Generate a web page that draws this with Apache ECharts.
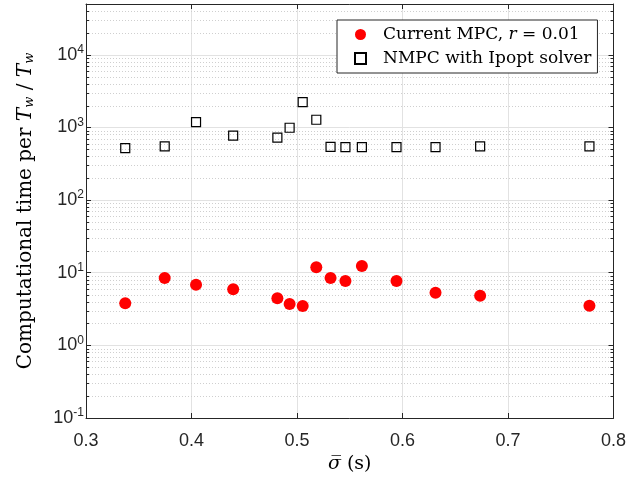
<!DOCTYPE html>
<html>
<head>
<meta charset="utf-8">
<script src="https://cdn.jsdelivr.net/npm/echarts@6/dist/echarts.min.js"></script>
<style>html,body{margin:0;padding:0;background:#fff}#chart{width:629px;height:481px}</style>
</head>
<body>
<div id="chart"></div>
<script>
// ---- data ----
const sigmaValues = [0.3372, 0.3746, 0.4043, 0.4395, 0.4814, 0.4930, 0.5054, 0.5183, 0.5318, 0.5459, 0.5615, 0.5943, 0.6313, 0.6736, 0.7772];
const mpcTimes    = [3.79, 8.46, 6.84, 5.91, 4.45, 3.71, 3.48, 11.9, 8.46, 7.69, 12.4, 7.69, 5.31, 4.83, 3.52];
const nmpcTimes   = [519, 548, 1183, 770, 722, 990, 2228, 1276, 540, 536, 536, 536, 536, 548, 548];
const xTicks = [0.3, 0.4, 0.5, 0.6, 0.7, 0.8];
const yDecades = [0.1, 1, 10, 100, 1000, 10000];
const minorTicks = [];
yDecades.forEach(function (d) {
  for (let k = 2; k <= 9; k++) { if (d * k < 50000) minorTicks.push(+(d * k).toPrecision(3)); }
});
const seriesNames = ['Current MPC, r = 0.01', 'NMPC with Ipopt solver'];

const axisColor = '#262626';
const serif = 'DejaVu Serif';
const chart = echarts.init(document.getElementById('chart'), null, {renderer: 'canvas'});

chart.setOption({
  animation: false,
  backgroundColor: '#fff',
  grid: {left: 86, right: 12, top: 4, bottom: 63, containLabel: false},
  legend: {
    data: seriesNames,
    orient: 'vertical',
    left: 337, top: 20,
    backgroundColor: '#fff',
    borderColor: axisColor, borderWidth: 1, borderRadius: 0,
    padding: [6, 6, 6, 17],
    itemGap: 7, itemWidth: 11, itemHeight: 11,
    textStyle: {fontFamily: serif, fontSize: 17, color: '#000', padding: [0, 0, 0, 12],
      rich: {i: {fontFamily: serif, fontSize: 17, fontStyle: 'italic', color: '#000'}}},
    formatter: function (n) { return n.replace(' r ', ' {i|r} '); }
  },
  xAxis: [{
    type: 'value', min: 0.3, max: 0.8, interval: 0.1,
    name: '{i|σ̅} (s)', nameLocation: 'middle', nameGap: 32,
    nameTextStyle: {fontFamily: serif, fontSize: 19, color: '#000',
      rich: {i: {fontFamily: serif, fontSize: 19, fontStyle: 'italic', color: '#000'}}},
    axisLine: {show: true, lineStyle: {color: axisColor, width: 1}},
    axisTick: {show: true, inside: true, length: 5, lineStyle: {color: axisColor}},
    axisLabel: {fontFamily: 'Liberation Sans', fontSize: 18, color: axisColor, margin: 14,
      formatter: function (v) { return v.toFixed(1); }},
    splitLine: {show: true, lineStyle: {color: '#e2e2e2', width: 1}}
  }, {
    type: 'value', min: 0.3, max: 0.8, interval: 0.1, position: 'top',
    axisLine: {show: true, onZero: false, lineStyle: {color: axisColor, width: 1}},
    axisTick: {show: true, inside: true, length: 5, lineStyle: {color: axisColor}},
    axisLabel: {show: false}, splitLine: {show: false}
  }],
  yAxis: [{
    type: 'log', logBase: 10, min: 0.1, max: 50000, interval: 1,
    name: 'Computational time per {i|T}{s|w} / {i|T}{s|w}',
    nameLocation: 'middle', nameGap: 50, nameRotate: 90,
    nameTextStyle: {fontFamily: serif, fontSize: 20, color: '#000',
      rich: {
        i: {fontFamily: serif, fontSize: 20, fontStyle: 'italic', color: '#000'},
        s: {fontFamily: serif, fontSize: 13, fontStyle: 'italic', color: '#000', padding: [8, 0, 0, 0]}
      }},
    axisLine: {show: true, lineStyle: {color: axisColor, width: 1}},
    axisTick: {show: true, inside: true, length: 5, lineStyle: {color: axisColor}},
    axisLabel: {
      margin: 2, color: axisColor,
      formatter: function (v) {
        const e = Math.log10(v);
        if (Math.abs(e - Math.round(e)) > 1e-6) return '';
        return '{b|10}{s|' + Math.round(e) + '}';
      },
      rich: {
        b: {fontFamily: 'Liberation Sans', fontSize: 18, color: axisColor},
        s: {fontFamily: 'Liberation Sans', fontSize: 12, color: axisColor, padding: [0, 0, 10, 0]}
      }
    },
    splitLine: {show: true, lineStyle: {color: '#e2e2e2', width: 1}}
  }, {
    type: 'log', logBase: 10, min: 0.1, max: 50000, interval: 1, position: 'right',
    axisLine: {show: true, lineStyle: {color: axisColor, width: 1}},
    axisTick: {show: true, inside: true, length: 5, lineStyle: {color: axisColor}},
    axisLabel: {show: false}, splitLine: {show: false}
  }],
  series: [{
    type: 'custom', name: 'minor', silent: true, z: 1,
    xAxisIndex: 0, yAxisIndex: 0,
    data: minorTicks.map(function (v) { return [0.3, v]; }),
    renderItem: function (params, api) {
      const p = api.coord([api.value(0), api.value(1)]);
      const cs = params.coordSys;
      const y = Math.round(p[1]) + 0.5;
      return {type: 'group', children: [
        {type: 'line', shape: {x1: cs.x, y1: y, x2: cs.x + cs.width, y2: y},
          style: {stroke: '#cfcfcf', lineWidth: 1, lineDash: [1, 2]}},
        {type: 'line', shape: {x1: cs.x, y1: y, x2: cs.x + 3, y2: y},
          style: {stroke: axisColor, lineWidth: 1}},
        {type: 'line', shape: {x1: cs.x + cs.width - 3, y1: y, x2: cs.x + cs.width, y2: y},
          style: {stroke: axisColor, lineWidth: 1}}
      ]};
    }
  }, {
    type: 'scatter', name: seriesNames[0], z: 3,
    symbol: 'circle', symbolSize: 12,
    itemStyle: {color: '#ff0000', opacity: 1},
    data: sigmaValues.map(function (x, i) { return [x, mpcTimes[i]]; })
  }, {
    type: 'scatter', name: seriesNames[1], z: 3,
    symbol: 'rect', symbolSize: 9,
    itemStyle: {color: 'rgba(255,255,255,0)', borderColor: '#000', borderWidth: 1.2, opacity: 1},
    data: sigmaValues.map(function (x, i) { return [x, nmpcTimes[i]]; })
  }]
});
</script>
</body>
</html>
